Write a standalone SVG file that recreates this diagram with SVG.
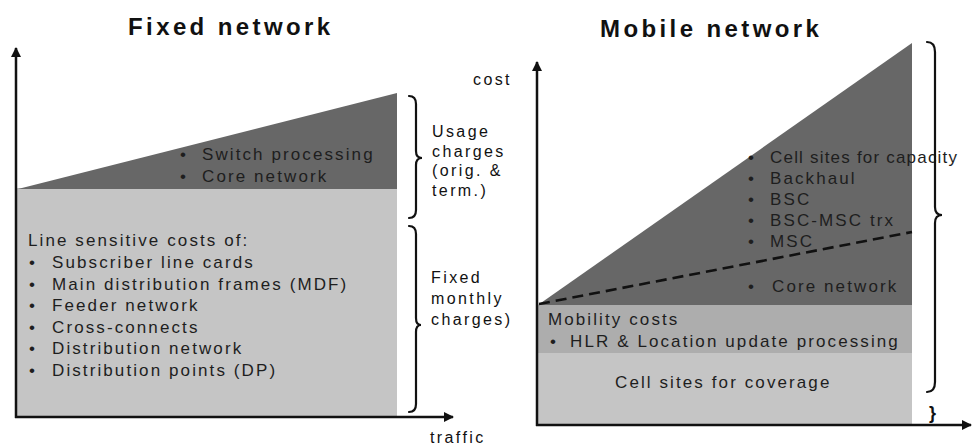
<svg xmlns="http://www.w3.org/2000/svg" width="974" height="448" viewBox="0 0 974 448">
  <style>
    .title { font-family: "Liberation Sans", Arial, sans-serif; font-size: 24px; font-weight: bold; letter-spacing: 3.4px; fill: #111; }
    .lbl { font-family: "Liberation Sans", Arial, sans-serif; font-size: 16px; letter-spacing: 2.4px; fill: #111; }
    .in { font-family: "Liberation Sans", Arial, sans-serif; font-size: 17px; letter-spacing: 2.1px; fill: #1e1e1e; }
    .tight { letter-spacing: 1.2px; }
    .axis { stroke: #111; stroke-width: 2.5; fill: none; }
    .brace { stroke: #111; stroke-width: 2.2; fill: none; stroke-linecap: round; }
    .dark { fill: #676767; }
    .light { fill: #c5c5c5; }
    .band { fill: #adadad; }
  </style>
  <defs>
    <marker id="arrow" viewBox="0 0 10 10" refX="9" refY="5" markerWidth="4" markerHeight="4" orient="auto-start-reverse" markerUnits="strokeWidth">
      <path d="M0,0 L10,5 L0,10 z" fill="#111"/>
    </marker>
  </defs>

  <!-- Fixed network -->
  <g id="fixed-title">
    <text class="title" x="128" y="35">Fixed network</text>
  </g>
  <g id="fixed-line-costs">
    <rect class="light" x="17" y="188" width="380" height="229"/>
    <text class="in" x="28" y="246">Line sensitive costs of:</text>
    <text class="in" x="29" y="268">•</text><text class="in" x="52" y="268">Subscriber line cards</text>
    <text class="in" x="29" y="289.5">•</text><text class="in" x="52" y="289.5">Main distribution frames (MDF)</text>
    <text class="in" x="29" y="311">•</text><text class="in" x="52" y="311">Feeder network</text>
    <text class="in" x="29" y="332.5">•</text><text class="in" x="52" y="332.5">Cross-connects</text>
    <text class="in" x="29" y="354">•</text><text class="in" x="52" y="354">Distribution network</text>
    <text class="in" x="29" y="375.5">•</text><text class="in" x="52" y="375.5">Distribution points (DP)</text>
  </g>
  <g id="fixed-usage-costs">
    <polygon class="dark" points="18,189 397,93 397,189"/>
    <text class="in" x="180" y="160">•</text><text class="in" x="202" y="160">Switch processing</text>
    <text class="in" x="180" y="182">•</text><text class="in" x="202" y="182">Core network</text>
  </g>
  <g id="fixed-usage-label">
    <text class="lbl" x="432" y="137">Usage</text>
    <text class="lbl" x="432" y="156.5">charges</text>
    <text class="lbl" x="432" y="176">(orig. &amp;</text>
    <text class="lbl" x="432" y="195.5">term.)</text>
  </g>
  <g id="fixed-monthly-label">
    <text class="lbl" x="431" y="283">Fixed</text>
    <text class="lbl" x="431" y="304">monthly</text>
    <text class="lbl" x="431" y="325">charges)</text>
  </g>
  <g id="fixed-axes">
    <line class="axis" x1="16" y1="418" x2="16" y2="48" marker-end="url(#arrow)"/>
    <line class="axis" x1="15" y1="417" x2="453" y2="417" marker-end="url(#arrow)"/>
    <text class="lbl" x="430" y="443">traffic</text>
  </g>

  <!-- Mobile network -->
  <g id="mobile-title">
    <text class="title" x="600" y="37">Mobile network</text>
  </g>
  <g id="mobile-coverage">
    <rect class="light" x="538" y="353" width="374" height="71"/>
    <text class="in" x="615" y="388">Cell sites for coverage</text>
  </g>
  <g id="mobile-mobility">
    <rect class="band" x="538" y="305" width="374" height="48"/>
    <text class="in" x="548" y="325">Mobility costs</text>
    <text class="in" x="550" y="347">•</text><text class="in" x="570" y="347">HLR &amp; Location update processing</text>
  </g>
  <g id="mobile-traffic">
    <polygon class="dark" points="538,305 912,43 912,305"/>
    <text class="in" x="748" y="163">•</text><text class="in tight" x="770" y="163">Cell sites for capacity</text>
    <text class="in" x="748" y="184">•</text><text class="in" x="770" y="184">Backhaul</text>
    <text class="in" x="748" y="205">•</text><text class="in" x="770" y="205">BSC</text>
    <text class="in" x="748" y="226">•</text><text class="in" x="770" y="226">BSC-MSC trx</text>
    <text class="in" x="748" y="247">•</text><text class="in" x="770" y="247">MSC</text>
    <text class="in" x="748" y="292">•</text><text class="in" x="772" y="292">Core network</text>
  </g>
  <g id="mobile-axes">
    <line class="axis" x1="537" y1="426" x2="537" y2="62" marker-end="url(#arrow)"/>
    <line class="axis" x1="536" y1="425" x2="971" y2="425" marker-end="url(#arrow)"/>
    <text class="lbl" x="473" y="85">cost</text>
  </g>

  <!-- connectors: braces and dashed split -->
  <g id="connectors">
    <path class="brace" d="M409,96 Q416,96 416,104 L416,151 Q416,158 422,158 Q416,158 416,165 L416,210 Q416,218 409,218"/>
    <path class="brace" d="M409,226 Q416,226 416,234 L416,318 Q416,325 421,325 Q416,325 416,332 L416,404 Q416,412 409,412"/>
    <path class="brace" d="M927,42 Q935,42 935,52 L935,207 Q935,215 942,215 Q935,215 935,223 L935,382 Q935,392 927,392"/>
    <path d="M539,304 L912,232" stroke="#111" stroke-width="2.6" stroke-dasharray="11,6" fill="none"/>
    <text x="929" y="419" font-family="'Liberation Sans', Arial, sans-serif" font-size="18" font-weight="bold" fill="#111">}</text>
  </g>
</svg>
